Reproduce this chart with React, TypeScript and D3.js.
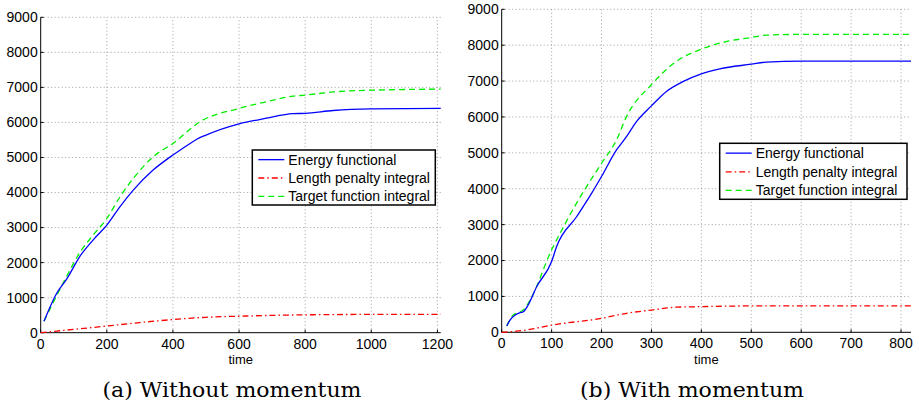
import React, { useEffect } from "react";
import * as d3 from "d3";

// ---- Data: (a) Without momentum ----
const aEnergyT = [10, 48, 78, 120, 159, 200, 240, 280, 340, 400, 452, 472, 500, 600, 683, 763, 800, 885, 1000, 1210];
const aEnergyV = [330, 1120, 1520, 2200, 2650, 3070, 3600, 4070, 4640, 5070, 5400, 5520, 5640, 5960, 6120, 6250, 6260, 6340, 6385, 6400];
const aTargetT = [10, 78, 120, 159, 200, 240, 280, 340, 400, 482, 600, 683, 763, 800, 885, 1000, 1210];
const aTargetV = [330, 1600, 2310, 2790, 3260, 3880, 4400, 5020, 5400, 6020, 6400, 6590, 6750, 6780, 6870, 6920, 6950];
const aPenaltyT = [0, 100, 200, 300, 400, 500, 600, 700, 800, 1000, 1210];
const aPenaltyV = [0, 95, 190, 290, 375, 440, 470, 495, 510, 522, 525];

// ---- Data: (b) With momentum ----
const bEnergyT = [10, 17, 27, 37, 42, 53, 70, 100, 110, 150, 180, 200, 230, 250, 270, 300, 330, 364, 400, 437, 500, 530, 600, 820];
const bEnergyV = [177, 344, 480, 550, 560, 760, 1270, 1970, 2390, 3220, 3870, 4340, 5080, 5450, 5870, 6310, 6710, 6990, 7200, 7340, 7470, 7530, 7555, 7555];
const bTargetT = [10, 23, 33, 43, 57, 100, 117, 150, 200, 230, 250, 300, 350, 400, 450, 500, 530, 600, 820];
const bTargetV = [177, 480, 550, 620, 900, 2300, 2760, 3600, 4710, 5360, 6010, 6900, 7550, 7890, 8100, 8215, 8280, 8300, 8300];
const bPenaltyT = [0, 50, 100, 200, 250, 300, 350, 400, 500, 820];
const bPenaltyV = [0, 65, 200, 390, 530, 620, 700, 715, 735, 735];

const yTicks = [0, 1000, 2000, 3000, 4000, 5000, 6000, 7000, 8000, 9000];
const aXTicks = [0, 200, 400, 600, 800, 1000, 1200];
const bXTicks = [0, 100, 200, 300, 400, 500, 600, 700, 800];
const legendLabels = ["Energy functional", "Length penalty integral", "Target function integral"];
const captions = ["(a) Without momentum", "(b) With momentum"];
const xLabel = "time";

const zip = (t: number[], v: number[]) => t.map((x, i) => [x, v[i]] as [number, number]);

const SANS = "'Liberation Sans', Arial, Helvetica, sans-serif";

type PanelProps = {
  x0: number; x1: number; y0: number; y1: number;
  xMax: number; xTicks: number[];
  energy: [number, number][]; penalty: [number, number][]; target: [number, number][];
  legend: { x: number; y: number; w: number; h: number };
  caption: string; captionX: number; captionW: number;
};

function Panel(p: PanelProps) {
  const x = d3.scaleLinear().domain([0, p.xMax]).range([p.x0, p.x1]);
  const y = d3.scaleLinear().domain([0, 9000]).range([p.y0, p.y1]);
  const line = d3.line<[number, number]>().x(d => x(d[0])).y(d => y(d[1])).curve(d3.curveMonotoneX);
  const grid = "#888";
  const styles = [
    { color: "#0000ff", dash: undefined as string | undefined },
    { color: "#ff0000", dash: "6,3,1.5,3" },
    { color: "#00ee00", dash: "6,4" },
  ];
  const lg = p.legend;
  const rowH = lg.h / 3;
  return (
    <g>
      {p.xTicks.filter(t => t > 0).map(t => (
        <line key={"gx" + t} x1={x(t)} x2={x(t)} y1={p.y0} y2={p.y1} stroke={grid} strokeWidth={0.8} strokeDasharray="1,2.5" />
      ))}
      {yTicks.filter(t => t > 0).map(t => (
        <line key={"gy" + t} x1={p.x0} x2={p.x1} y1={y(t)} y2={y(t)} stroke={grid} strokeWidth={0.8} strokeDasharray="1,2.5" />
      ))}
      <line x1={p.x0} x2={p.x0} y1={p.y0} y2={p.y1} stroke="#000" strokeWidth={1} />
      <line x1={p.x0} x2={p.x1} y1={p.y0} y2={p.y0} stroke="#000" strokeWidth={1} />
      {yTicks.map(t => (
        <g key={"yt" + t}>
          <line x1={p.x0} x2={p.x0 + 3} y1={y(t)} y2={y(t)} stroke="#000" />
          <text x={p.x0 - 3} y={y(t)} dy="0.35em" textAnchor="end" fontFamily={SANS} fontSize={14}>{t}</text>
        </g>
      ))}
      {p.xTicks.map(t => (
        <g key={"xt" + t}>
          <line x1={x(t)} x2={x(t)} y1={p.y0} y2={p.y0 - 3} stroke="#000" />
          <text x={x(t)} y={p.y0 + 16} textAnchor="middle" fontFamily={SANS} fontSize={14}>{t}</text>
        </g>
      ))}
      <text x={(p.x0 + p.x1) / 2} y={363.5} textAnchor="middle" fontFamily={SANS} fontSize={13}>{xLabel}</text>
      <path d={line(p.penalty) || ""} fill="none" stroke={styles[1].color} strokeWidth={1.3} strokeDasharray={styles[1].dash} />
      <path d={line(p.target) || ""} fill="none" stroke={styles[2].color} strokeWidth={1.3} strokeDasharray={styles[2].dash} />
      <path d={line(p.energy) || ""} fill="none" stroke={styles[0].color} strokeWidth={1.3} />
      <rect x={lg.x} y={lg.y} width={lg.w} height={lg.h} fill="#fff" stroke="#000" strokeWidth={1.5} />
      {legendLabels.map((lab, i) => {
        const cy = lg.y + rowH * (i + 0.5) + 0.5;
        return (
          <g key={lab}>
            <line x1={lg.x + 6} x2={lg.x + 32} y1={cy} y2={cy} stroke={styles[i].color} strokeWidth={1.3} strokeDasharray={styles[i].dash} />
            <text x={lg.x + 36} y={cy} dy="0.35em" fontFamily={SANS} fontSize={14}>{lab}</text>
          </g>
        );
      })}
      <text x={p.captionX} y={397} textAnchor="middle" fontFamily="'DejaVu Serif', 'Liberation Serif', serif" fontSize={21}
        textLength={p.captionW} lengthAdjust="spacingAndGlyphs">{p.caption}</text>
    </g>
  );
}

export default function App() {
  useEffect(() => {
    document.body.style.margin = "0";
  }, []);
  return (
    <svg width={919} height={409} style={{ display: "block", background: "#fff" }}>
      <Panel x0={40.7} x1={440.7} y0={332.7} y1={17.3} xMax={1210} xTicks={aXTicks}
        energy={zip(aEnergyT, aEnergyV)} penalty={zip(aPenaltyT, aPenaltyV)} target={zip(aTargetT, aTargetV)}
        legend={{ x: 252.3, y: 150, w: 183, h: 55 }} caption={captions[0]} captionX={232} captionW={259} />
      <Panel x0={501.7} x1={911} y0={332.3} y1={9.3} xMax={820} xTicks={bXTicks}
        energy={zip(bEnergyT, bEnergyV)} penalty={zip(bPenaltyT, bPenaltyV)} target={zip(bTargetT, bTargetV)}
        legend={{ x: 719.7, y: 143.3, w: 187.3, h: 56 }} caption={captions[1]} captionX={692} captionW={224} />
    </svg>
  );
}
